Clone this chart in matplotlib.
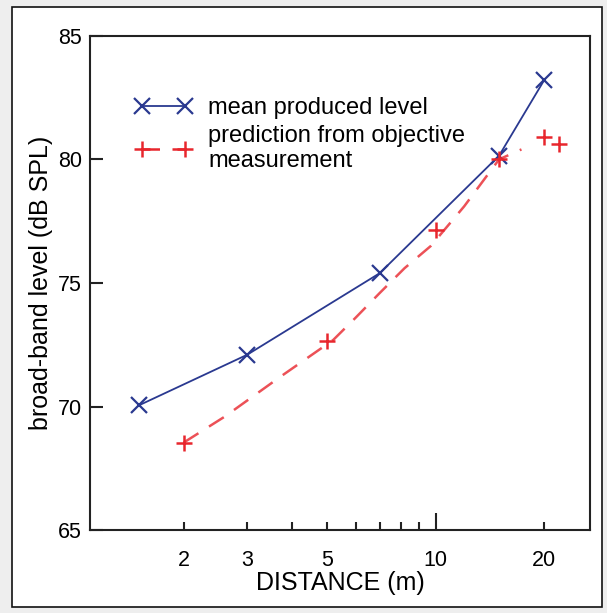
import matplotlib
matplotlib.use('Agg')
import matplotlib.pyplot as plt
from matplotlib.patches import Rectangle

plt.rcParams['font.family'] = ['Liberation Sans', 'DejaVu Sans']

# measured levels (mean produced level)
dist_mean = [1.5, 3, 7, 15, 20]
level_mean = [70.05, 72.1, 75.4, 80.15, 83.2]

# prediction from objective measurement (markers)
dist_pred = [2, 5, 10, 15, 20, 22]
level_pred = [68.55, 72.65, 77.15, 80.0, 80.9, 80.6]

# dashed fit curve through the prediction
dist_fit = [2, 2.6, 3.7, 5.2, 6, 7, 8.2, 9.7, 12, 15, 17.3]
level_fit = [68.55, 69.6, 71.2, 72.7, 73.6, 74.6, 75.6, 76.5, 78.1, 80.0, 80.4]

xtick_vals = [2, 3, 5, 10, 20]
xtick_labels = ['2', '3', '5', '10', '20']
ytick_vals = [65, 70, 75, 80, 85]

blue = '#2a3990'
red = '#e8262d'

fig = plt.figure(figsize=(6.07, 6.13), dpi=100)
fig.patch.set_facecolor('#eeeeee')
# white panel with black border
fig.patches.append(Rectangle((12 / 607, 1 - 607 / 613), 590 / 607, 600 / 613,
                             transform=fig.transFigure, facecolor='white',
                             edgecolor='#111111', linewidth=1.2, zorder=-10))

ax = fig.add_axes([0.1483, 0.1347, 0.8237, 0.8072])
ax.set_facecolor('none')
ax.set_xscale('log')

ax.plot(dist_mean, level_mean, color=blue, linewidth=1.3, marker='x',
        markersize=11.5, markeredgewidth=1.6, label='mean produced level')
ax.plot(dist_fit, level_fit, color=red, linewidth=1.8, dashes=(7, 5),
        alpha=0.8)
ax.plot(dist_pred, level_pred, linestyle='none', color=red, marker='+',
        markersize=12, markeredgewidth=1.8)
# legend handle for the prediction series
ax.plot([], [], color=red, linewidth=1.8, dashes=(7, 5), marker='+',
        markersize=12, markeredgewidth=1.8,
        label='prediction from objective\nmeasurement')

ax.set_xlim(1.1, 26.8)
ax.set_ylim(65, 85)

ax.set_xticks(xtick_vals)
ax.set_xticklabels(xtick_labels)
ax.set_xticks([4, 6, 7, 8, 9], minor=True)
ax.xaxis.set_minor_formatter(plt.NullFormatter())
ax.set_yticks(ytick_vals)

ax.tick_params(axis='x', which='both', direction='in', length=6, width=1.5,
               labelsize=15.5, pad=14, top=False, color='#222222')
ax.tick_params(axis='y', direction='in', length=9, width=1.5, labelsize=15.5,
               pad=6, right=False, color='#222222')
ax.xaxis.get_major_ticks()[3].tick1line.set_markersize(12)

for s in ax.spines.values():
    s.set_linewidth(1.5)
    s.set_color('#222222')

ax.set_xlabel('DISTANCE (m)', fontsize=18, labelpad=0)
ax.set_ylabel('broad-band level (dB SPL)', fontsize=18, labelpad=3)

ax.legend(loc='upper left', bbox_to_anchor=(0.07, 0.895), frameon=False,
          fontsize=17, numpoints=2, handlelength=2.45, handletextpad=0.68,
          labelspacing=0.25, borderaxespad=0)

fig.savefig('out.png', dpi=100, facecolor=fig.get_facecolor())
